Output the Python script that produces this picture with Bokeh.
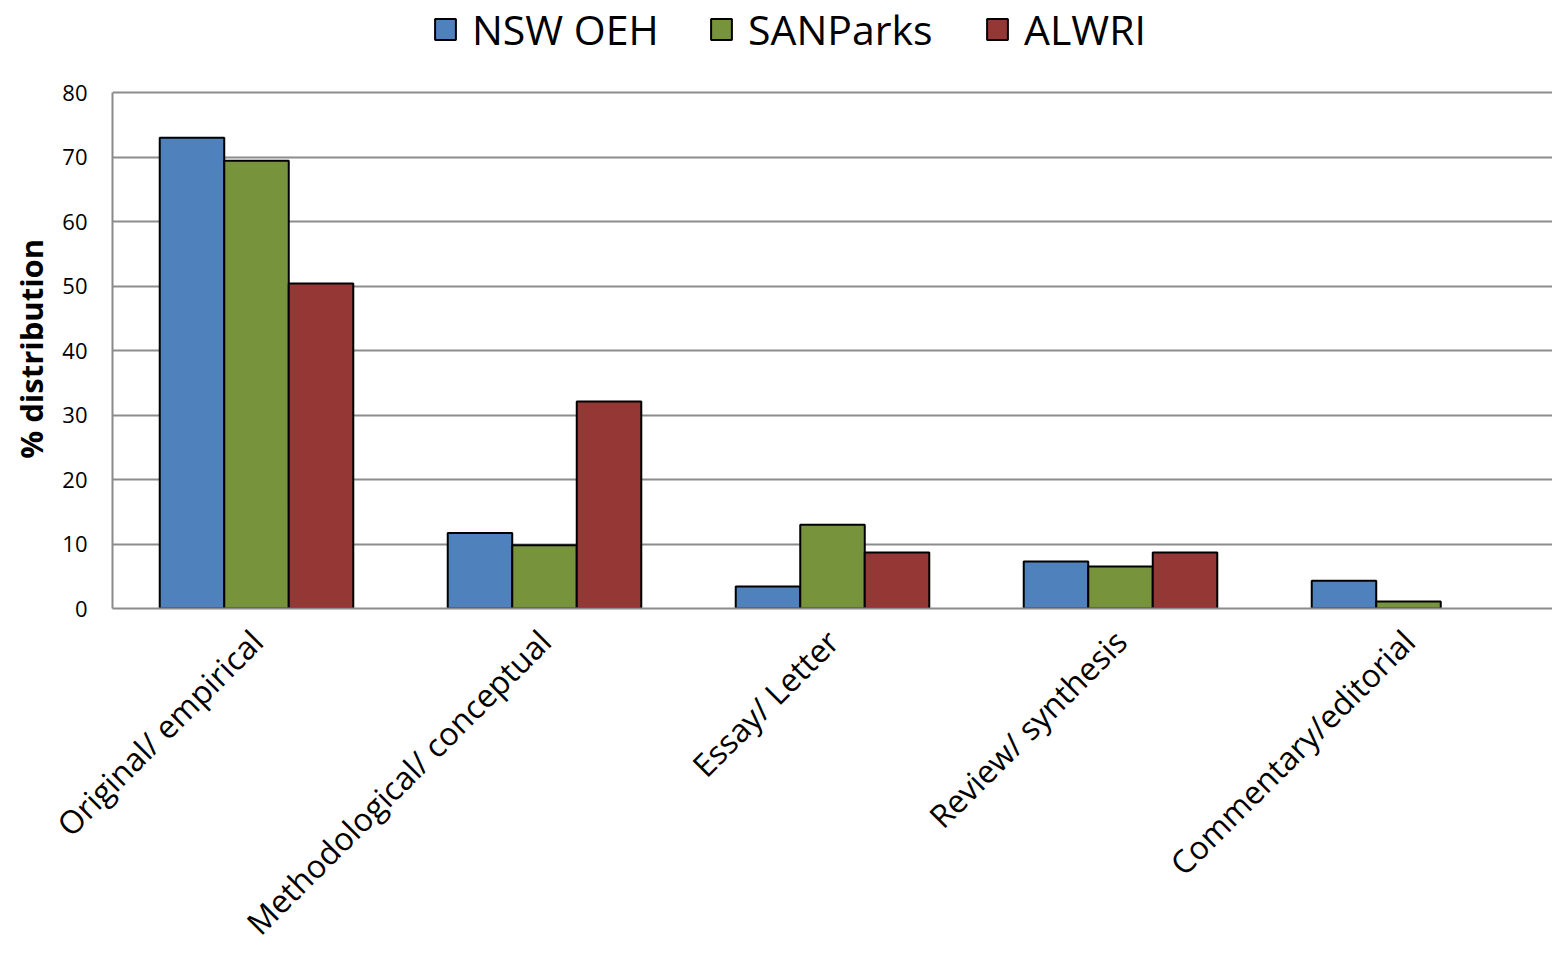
import math
from bokeh.plotting import figure
from bokeh.models import FixedTicker, Legend, LegendItem, Range1d, ColumnDataSource
from bokeh.embed import file_html
from bokeh.resources import INLINE

categories = ["Original/ empirical", "Methodological/ conceptual", "Essay/ Letter",
              "Review/ synthesis", "Commentary/editorial"]
series_names = ["NSW OEH", "SANParks", "ALWRI"]
nsw_oeh = [73.0, 11.7, 3.4, 7.3, 4.3]
sanparks = [69.4, 9.8, 13.0, 6.5, 1.1]
alwri = [50.4, 32.1, 8.7, 8.7, 0.0]
colors = ["#4F81BD", "#77933C", "#953735"]
y_ticks = [0, 10, 20, 30, 40, 50, 60, 70, 80]

FONT = "Open Sans"

# frame runs to the top of the canvas so the legend can sit inside it;
# the visible value axis stops at 80 (frame height 608 px, 80 -> 516 px)
Y_TOP = 80 * 608 / 516

p = figure(width=1552, height=962, output_backend="svg", toolbar_location=None,
           x_range=Range1d(0, 5.0), y_range=Range1d(0, Y_TOP),
           min_border_left=112, min_border_right=0, min_border_top=0,
           min_border_bottom=354)
p.outline_line_color = None
p.background_fill_color = "white"

bw = 0.224
offsets = [-bw, 0.0, bw]
renderers = []
for vals, col, off in zip([nsw_oeh, sanparks, alwri], colors, offsets):
    src = ColumnDataSource(dict(
        x=[i + 0.5 + off for i in range(len(categories))],
        top=vals,
        lc=["black" if v > 0 else None for v in vals],
    ))
    r = p.vbar(x="x", top="top", width=bw, bottom=0, fill_color=col,
               line_color="lc", line_width=2, source=src)
    renderers.append(r)

p.xaxis.ticker = FixedTicker(ticks=[i + 0.5 for i in range(len(categories))])
p.xaxis.major_label_overrides = {i + 0.5: c for i, c in enumerate(categories)}
p.xaxis.major_label_orientation = math.pi / 4
p.xaxis.major_label_text_font = FONT
p.xaxis.major_label_text_font_size = "32px"
p.xaxis.major_label_text_color = "black"
p.xaxis.major_tick_line_color = None
p.xaxis.minor_tick_line_color = None
p.xaxis.axis_line_color = "#8a8a8a"
p.xaxis.axis_line_width = 2
p.xaxis.major_label_standoff = 21

p.yaxis.ticker = FixedTicker(ticks=y_ticks)
p.yaxis.bounds = (0, 80)
p.yaxis.major_label_text_font = FONT
p.yaxis.major_label_text_font_size = "22px"
p.yaxis.major_label_text_color = "black"
p.yaxis.major_tick_line_color = None
p.yaxis.minor_tick_line_color = None
p.yaxis.axis_line_color = "#8a8a8a"
p.yaxis.axis_line_width = 2
p.yaxis.major_label_standoff = 19
p.yaxis.axis_label = "% distribution" + "\u00a0" * 11
p.yaxis.axis_label_text_font = FONT
p.yaxis.axis_label_text_font_size = "31px"
p.yaxis.axis_label_text_font_style = "bold"
p.yaxis.axis_label_text_color = "black"
p.yaxis.axis_label_standoff = 7

p.xgrid.grid_line_color = None
p.ygrid.ticker = FixedTicker(ticks=y_ticks)
p.ygrid.grid_line_color = "#8c8c8c"
p.ygrid.grid_line_width = 2

legend = Legend(items=[LegendItem(label=n, renderers=[r]) for n, r in zip(series_names, renderers)],
                orientation="horizontal", location=(320, 551))
legend.label_text_font = FONT
legend.label_text_font_size = "41px"
legend.label_text_color = "black"
legend.label_width = 215
legend.glyph_width = 26
legend.glyph_height = 26
legend.label_standoff = 14
legend.spacing = 21
legend.padding = 0
legend.margin = 0
legend.border_line_color = None
legend.background_fill_alpha = 0
p.add_layout(legend, "center")

open("out.html", "w").write(file_html(p, INLINE))
